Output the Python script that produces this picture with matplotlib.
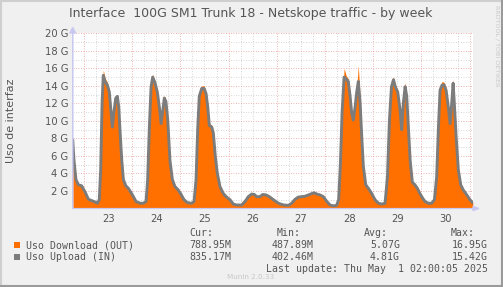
import matplotlib
matplotlib.use("Agg")
import matplotlib.pyplot as plt
from matplotlib.patches import Rectangle
from matplotlib.lines import Line2D

# ---- data (hours since Apr 23 00:00, values in G) ----
hours = [-5.6, -5.0, -4.0, -2.8, -1.2, 0.5, 2.2, 3.8, 5.5, 6.6, 7.6, 8.3, 9.0, 9.6,
         10.5, 11.6, 12.6, 13.4, 14.1, 14.9, 15.8, 16.6, 17.3, 17.9, 18.8, 19.6, 20.8,
         22.1, 23.2, 24.6, 25.9, 27.9, 29.6, 30.9, 31.7, 32.5, 33.4, 34.2, 35.4, 36.5,
         37.5, 38.4, 39.2, 40.0, 40.8, 41.7, 42.8, 44.0, 45.3, 46.6, 48.1, 49.8, 51.5,
         53.6, 54.8, 55.8, 56.6, 57.4, 58.6, 59.8, 60.8, 61.6, 62.4, 63.6, 64.4, 65.4,
         66.4, 67.7, 69.4, 71.0, 72.7, 74.4, 76.0, 78.5, 80.2, 81.8, 83.5, 84.8, 86.0,
         87.6, 89.0, 90.6, 92.3, 94.3, 96.8, 99.3, 101.8, 103.4, 105.1, 106.7, 108.4,
         110.1, 111.7, 113.4, 114.5, 115.9, 117.5, 119.2, 120.9, 122.5, 124.2, 125.8,
         126.8, 127.7, 128.5, 129.5, 130.5, 131.6, 132.5, 133.3, 134.1, 135.0, 135.8,
         136.6, 137.5, 138.3, 139.1, 140.3, 141.6, 143.3, 144.9, 146.6, 148.2, 149.9,
         151.1, 152.1, 153.1, 154.1, 155.0, 156.2, 157.4, 158.2, 159.0, 159.9, 160.7,
         161.5, 162.4, 163.5, 164.8, 166.0, 167.3, 168.7, 169.8, 171.5, 173.1, 174.5,
         175.6, 176.5, 177.3, 178.3, 179.3, 180.3, 181.4, 182.3, 183.1, 183.8, 184.4,
         185.3, 186.4, 187.6, 188.9, 190.6, 192.2, 193.6]

upload = [7.8, 5.5, 3.3, 2.7, 2.6, 1.9, 1.05, 0.9, 0.75, 0.6, 1.0, 4.4, 12.0, 15.2,
          14.5, 14.1, 13.3, 11.2, 9.3, 11.0, 12.6, 12.8, 11.6, 9.0, 5.5, 3.3, 2.6,
          2.3, 1.9, 1.35, 0.8, 0.6, 0.6, 0.8, 3.3, 9.0, 13.9, 15.0, 14.3, 13.3,
          11.6, 9.7, 11.2, 12.6, 12.2, 10.1, 5.5, 3.3, 2.5, 2.2, 1.7, 1.0, 0.67,
          0.6, 0.8, 3.3, 9.0, 12.8, 13.7, 13.7, 13.1, 11.6, 9.5, 9.3, 8.6, 5.9,
          4.0, 2.5, 1.7, 1.3, 1.0, 0.5, 0.4, 0.4, 0.8, 1.35, 1.65, 1.6, 1.35,
          1.35, 1.6, 1.55, 1.35, 1.0, 0.6, 0.4, 0.36, 0.6, 1.05, 1.3, 1.35,
          1.4, 1.55, 1.7, 1.8, 1.65, 1.55, 1.35, 0.8, 0.4, 0.3, 0.36,
          1.0, 5.2, 10.9, 15.0, 14.8, 14.5, 12.8, 10.9, 10.1, 11.6, 13.3,
          14.5, 12.0, 8.2, 4.8, 2.7, 2.3, 1.7, 1.0, 0.6, 0.5, 0.6,
          3.6, 10.1, 13.9, 14.7, 13.9, 13.3, 11.2, 9.0, 12.0, 13.9, 12.8,
          9.3, 5.5, 3.0, 2.7, 2.3, 1.7, 1.15, 0.8, 0.6, 0.6, 1.0,
          3.6, 9.3, 13.5, 14.1, 14.1, 13.5, 11.6, 9.7, 12.0, 14.3, 12.0,
          8.2, 4.4, 2.7, 2.1, 1.55, 1.0, 0.67]

download = [7.9, 5.6, 3.4, 2.8, 2.7, 2.0, 1.1, 0.95, 0.8, 0.65, 1.05, 4.6, 12.6, 15.8,
            14.9, 14.4, 13.5, 11.4, 9.4, 11.2, 12.9, 13.0, 11.8, 9.2, 5.6, 3.4, 2.7,
            2.4, 2.0, 1.4, 0.85, 0.65, 0.65, 0.85, 3.4, 9.3, 14.4, 15.3, 14.6, 13.5,
            11.8, 9.9, 11.4, 12.9, 12.4, 10.3, 5.6, 3.4, 2.6, 2.3, 1.8, 1.05, 0.7,
            0.65, 0.85, 3.4, 9.3, 13.2, 14.0, 14.0, 13.3, 11.8, 9.7, 9.5, 8.8, 6.0,
            4.1, 2.6, 1.8, 1.35, 1.05, 0.55, 0.45, 0.45, 0.85, 1.4, 1.7, 1.65, 1.4,
            1.4, 1.65, 1.6, 1.4, 1.05, 0.65, 0.45, 0.4, 0.65, 1.1, 1.35, 1.4,
            1.45, 1.6, 1.75, 1.85, 1.7, 1.6, 1.4, 0.85, 0.45, 0.35, 0.4,
            1.05, 5.4, 11.4, 16.0, 15.2, 14.8, 13.1, 11.1, 10.3, 11.9, 13.8,
            16.3, 12.4, 8.4, 4.9, 2.8, 2.4, 1.8, 1.05, 0.65, 0.55, 0.65,
            3.7, 10.5, 14.3, 15.0, 14.2, 13.5, 11.4, 9.2, 12.4, 14.4, 13.1,
            9.5, 5.6, 3.1, 2.8, 2.4, 1.8, 1.2, 0.85, 0.65, 0.65, 1.05,
            3.7, 9.6, 13.9, 14.5, 14.4, 13.8, 11.8, 9.9, 12.3, 14.8, 12.3,
            8.4, 4.5, 2.8, 2.2, 1.6, 1.05, 0.72]

day_labels = ["23", "24", "25", "26", "27", "28", "29", "30"]
ytick_values = [2, 4, 6, 8, 10, 12, 14, 16, 18, 20]
ytick_labels = [f"{v} G" for v in ytick_values]

legend_names = ["Uso Download (OUT)", "Uso Upload (IN)"]
cur_vals = ["788.95M", "835.17M"]
min_vals = ["487.89M", "402.46M"]
avg_vals = ["5.07G", "4.81G"]
max_vals = ["16.95G", "15.42G"]

title = "Interface  100G SM1 Trunk 18 - Netskope traffic - by week"
ylabel = "Uso de interfaz"
last_update = "Last update: Thu May  1 02:00:05 2025"

ORANGE = "#ff7000"
GRAY = "#7c7c7c"
BG = "#f0f0f0"
TXT = "#555555"

W, H = 503, 287
fig = plt.figure(figsize=(W / 100, H / 100), dpi=100, facecolor=BG)

def fx(px):
    return px / W

def fy(py):
    return 1 - py / H

left, right, top, bottom = 72.7, 473.0, 33.3, 208.5
ax = fig.add_axes([fx(left), fy(bottom), fx(right - left), fy(top) - fy(bottom)])
ax.set_facecolor("white")
ax.set_xlim(-5.63, 193.7)
ax.set_ylim(0, 20)

# grid
for h in range(0, 193, 6):
    if h % 24 == 0:
        continue
    ax.axvline(h, color="#c8c8c8", lw=0.6, ls=(0, (1, 2)), zorder=1)
for v in range(1, 21, 2):
    ax.axhline(v, color="#c8c8c8", lw=0.6, ls=(0, (1, 2)), zorder=1)
for h in range(0, 193, 24):
    ax.axvline(h, color="#ec9a9a", lw=0.6, ls=(0, (1, 2)), zorder=1)
for v in ytick_values:
    ax.axhline(v, color="#ec9a9a", lw=0.6, ls=(0, (1, 2)), zorder=1)

ax.fill_between(hours, download, 0, color=ORANGE, lw=0, zorder=2)
ax.plot(hours, upload, color=GRAY, lw=2.1, zorder=3, solid_joinstyle="round")

for s in ax.spines.values():
    s.set_visible(False)

ax.set_yticks(ytick_values)
ax.set_yticklabels(ytick_labels)
ax.set_xticks([d * 24 + 12 for d in range(8)])
ax.set_xticklabels(day_labels)
ax.tick_params(axis="both", length=0, labelsize=7.2, colors=TXT, pad=3)
ax.tick_params(axis="x", pad=4)

# axis lines with arrows
axis_col = "#c8c8f0"
fig.add_artist(matplotlib.patches.FancyArrow(fx(left), fy(bottom), fx(right + 6 - left), 0,
               width=0.0, head_width=0.016, head_length=0.012, color=axis_col,
               transform=fig.transFigure, length_includes_head=True, lw=0.8))
fig.add_artist(matplotlib.patches.FancyArrow(fx(left), fy(bottom), 0, fy(top - 6) - fy(bottom),
               width=0.0, head_width=0.012, head_length=0.02, color=axis_col,
               transform=fig.transFigure, length_includes_head=True, lw=0.8))

# title and labels
fig.text(fx(251), fy(14), title, ha="center", va="center", fontsize=9.0, color=TXT)
fig.text(fx(11), fy(121), ylabel, ha="center", va="center", rotation=90, fontsize=8, color=TXT)
fig.text(fx(497), fy(5), "RRDTOOL / TOBI OETIKER", ha="center", va="top", rotation=270,
         fontsize=4.6, color="#c8c8c8")

# legend
mono = "DejaVu Sans Mono"
fs = 7.1
hy = 233
fig.text(fx(213), fy(hy), "Cur:", ha="right", va="center", fontsize=fs, family=mono, color=TXT)
fig.text(fx(301), fy(hy), "Min:", ha="right", va="center", fontsize=fs, family=mono, color=TXT)
fig.text(fx(388), fy(hy), "Avg:", ha="right", va="center", fontsize=fs, family=mono, color=TXT)
fig.text(fx(475), fy(hy), "Max:", ha="right", va="center", fontsize=fs, family=mono, color=TXT)
rows_y = [245, 257]
colors = [ORANGE, GRAY]
for i in range(2):
    y = rows_y[i]
    fig.add_artist(Rectangle((fx(14), fy(y + 3)), fx(6), fy(y - 3) - fy(y + 3),
                             transform=fig.transFigure, color=colors[i], lw=0))
    fig.text(fx(26.5), fy(y), legend_names[i], ha="left", va="center", fontsize=fs, family=mono, color=TXT)
    fig.text(fx(231), fy(y), cur_vals[i], ha="right", va="center", fontsize=fs, family=mono, color=TXT)
    fig.text(fx(314), fy(y), min_vals[i], ha="right", va="center", fontsize=fs, family=mono, color=TXT)
    fig.text(fx(400), fy(y), avg_vals[i], ha="right", va="center", fontsize=fs, family=mono, color=TXT)
    fig.text(fx(488), fy(y), max_vals[i], ha="right", va="center", fontsize=fs, family=mono, color=TXT)
fig.text(fx(488), fy(269.5), last_update, ha="right", va="center", fontsize=fs, family=mono, color=TXT)
fig.text(fx(251), fy(277), "Munin 2.0.33", ha="center", va="center", fontsize=5.2, color="#c8c8c8")

# 3D-style border: light top/left, dark bottom/right
lw_b = 1.5
fig.add_artist(Line2D([fx(1), fx(1)], [0, 1], color="#cfcfcf", lw=lw_b, transform=fig.transFigure))
fig.add_artist(Line2D([0, 1], [fy(1), fy(1)], color="#cfcfcf", lw=lw_b, transform=fig.transFigure))
fig.add_artist(Line2D([fx(W - 1), fx(W - 1)], [0, 1], color="#9a9a9a", lw=lw_b, transform=fig.transFigure))
fig.add_artist(Line2D([0, 1], [fy(H - 1), fy(H - 1)], color="#9a9a9a", lw=lw_b, transform=fig.transFigure))

fig.savefig("out.png", dpi=100, facecolor=BG)
